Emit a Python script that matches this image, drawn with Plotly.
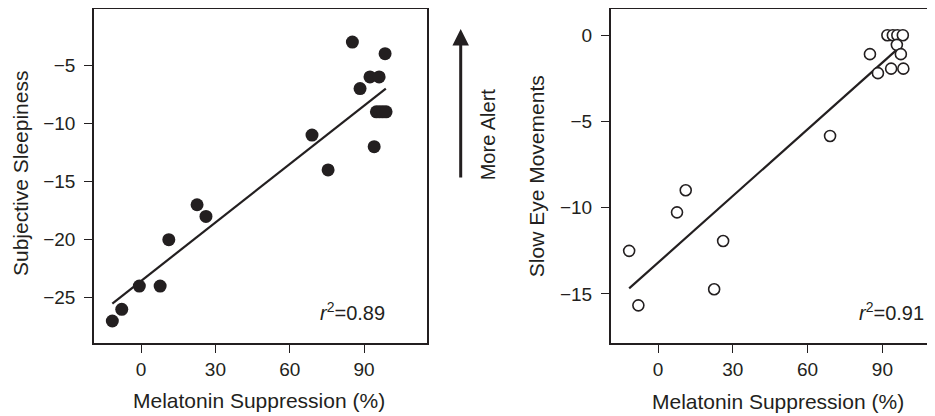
import plotly.graph_objects as go

# ---------------- data ----------------
sleep_x = [-11.6, -7.8, -0.7, 7.7, 11.2, 22.6, 26.2, 69.0, 75.5, 85.3, 88.4,
           92.4, 96.1, 98.5, 94.1, 95.0, 96.3, 97.6, 98.9]
sleep_y = [-27, -26, -24, -24, -20, -17, -18, -11, -14, -3, -7,
           -6, -6, -4, -12, -9, -9, -9, -9]
sleep_fit_x = [-11.6, 98.8]
sleep_fit_y = [-25.5, -7.0]

sem_x = [-11.6, -7.9, 7.6, 11.1, 22.5, 26.1, 69.0, 85.0, 88.2, 92.0, 94.2,
         96.0, 98.2, 95.8, 97.4, 93.5, 98.4]
sem_y = [-12.5, -15.66, -10.27, -8.99, -14.73, -11.93, -5.84, -1.1, -2.2, 0, 0,
         0, 0, -0.56, -1.1, -1.94, -1.94]
sem_fit_x = [-11.6, 95.7]
sem_fit_y = [-14.68, -0.85]

x_ticks = [0, 30, 60, 90]
sleep_ticks = [-25, -20, -15, -10, -5]
sem_ticks = [-15, -10, -5, 0]

r2_left = "<i>r</i><sup>2</sup>=0.89"
r2_right = "<i>r</i><sup>2</sup>=0.91"

# ---------------- figure ----------------
# the page body has an 8px default margin, so the figure is 8px smaller
OFF = 8
W, H = 935 - OFF, 416 - OFF
INK = "#231f20"
FONT = "Liberation Sans, Arial, sans-serif"

fig = go.Figure()
fig.add_trace(go.Scatter(x=sleep_fit_x, y=sleep_fit_y, mode="lines",
                         line=dict(color=INK, width=2.2), xaxis="x", yaxis="y",
                         showlegend=False, hoverinfo="skip"))
fig.add_trace(go.Scatter(x=sleep_x, y=sleep_y, mode="markers",
                         marker=dict(color=INK, size=13, line=dict(width=0)),
                         xaxis="x", yaxis="y", showlegend=False))
fig.add_trace(go.Scatter(x=sem_fit_x, y=sem_fit_y, mode="lines",
                         line=dict(color=INK, width=2.2), xaxis="x2", yaxis="y2",
                         showlegend=False, hoverinfo="skip"))
fig.add_trace(go.Scatter(x=sem_x, y=sem_y, mode="markers",
                         marker=dict(color="white", size=11, line=dict(color=INK, width=1.6)),
                         xaxis="x2", yaxis="y2", showlegend=False))

def px(xp):
    return (xp - OFF) / W

def py(yp):
    return 1 - (yp - OFF) / H

axis_common = dict(showgrid=False, zeroline=False, showline=True, linecolor=INK,
                   linewidth=1.5, ticks="outside", ticklen=8, tickwidth=1.3,
                   tickcolor=INK, tickfont=dict(size=19, color=INK, family=FONT))

fig.update_layout(
    width=W, height=H, margin=dict(l=0, r=0, t=0, b=0),
    paper_bgcolor="white", plot_bgcolor="white",
    font=dict(family=FONT, color=INK),
    xaxis=dict(domain=[px(94), px(426.7)], range=[-19, 115.3], tickvals=x_ticks,
               mirror=True, anchor="y", **axis_common),
    yaxis=dict(domain=[py(343.3), py(9.3)], range=[-28.92, -0.18], tickvals=sleep_ticks,
               mirror=True, anchor="x", ticklabelstandoff=5, **axis_common),
    xaxis2=dict(domain=[px(610.7), 1.0], range=[-19, 111.1], tickvals=x_ticks,
                mirror=True, anchor="y2", **axis_common),
    yaxis2=dict(domain=[py(343.3), py(9.3)], range=[-17.86, 1.5], tickvals=sem_ticks,
                mirror=False, anchor="x2", ticklabelstandoff=5, **axis_common),
)

ann = [
    dict(text="Melatonin Suppression (%)", x=px(259), y=py(400), xref="paper", yref="paper",
         showarrow=False, font=dict(size=21, color=INK), xanchor="center", yanchor="middle"),
    dict(text="Melatonin Suppression (%)", x=px(777.5), y=py(401), xref="paper", yref="paper",
         showarrow=False, font=dict(size=21, color=INK), xanchor="center", yanchor="middle"),
    dict(text="Subjective Sleepiness", x=px(20), y=py(174), xref="paper", yref="paper",
         showarrow=False, textangle=-90, font=dict(size=21, color=INK),
         xanchor="center", yanchor="middle"),
    dict(text="Slow Eye Movements", x=px(536.7), y=py(176.5), xref="paper", yref="paper",
         showarrow=False, textangle=-90, font=dict(size=21, color=INK),
         xanchor="center", yanchor="middle"),
    dict(text="More Alert", x=px(488.3), y=py(134), xref="paper", yref="paper",
         showarrow=False, textangle=-90, font=dict(size=20, color=INK),
         xanchor="center", yanchor="middle"),
    dict(text=r2_left, x=px(387), y=py(311), xref="paper", yref="paper",
         showarrow=False, font=dict(size=20, color=INK), xanchor="right", yanchor="middle"),
    dict(text=r2_right, x=px(926), y=py(311), xref="paper", yref="paper",
         showarrow=False, font=dict(size=20, color=INK), xanchor="right", yanchor="middle"),
    dict(text="", x=px(460.7), y=py(29), xref="paper", yref="paper",
         ax=0, ay=150, axref="pixel", ayref="pixel",
         showarrow=True, arrowhead=2, arrowsize=1.1, arrowwidth=3, arrowcolor=INK,
         standoff=0, startstandoff=0),
]
fig.update_layout(annotations=ann)

fig.write_html("out.html")
